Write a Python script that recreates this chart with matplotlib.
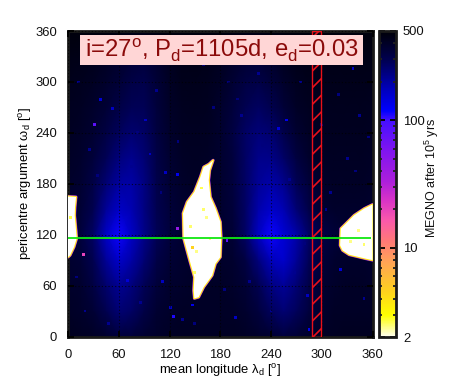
import numpy as np
import matplotlib
matplotlib.use("Agg")
import matplotlib.pyplot as plt
from matplotlib.colors import LinearSegmentedColormap, LogNorm
from matplotlib.ticker import FixedLocator, NullFormatter

plt.rcParams['font.family'] = ['Liberation Sans', 'DejaVu Sans']
plt.rcParams['mathtext.fontset'] = 'custom'
plt.rcParams['mathtext.rm'] = 'Liberation Sans'
plt.rcParams['hatch.linewidth'] = 1.2

# ---- data ----
lambda_grid = list(range(0, 361, 15))
omega_grid = list(range(0, 361, 30))
megno_background = [
    [420,410,400,380,340,350,370,390,400,410,410,410,410,410,400,390,370,340,360,390,400,410,420,420,420],
    [400,390,360,300,250,270,320,370,390,400,400,400,400,400,380,340,280,250,280,340,380,400,400,400,400],
    [390,380,330,260,215,240,290,350,380,390,400,400,400,390,360,300,235,210,250,320,370,390,400,400,390],
    [380,360,300,210,160,195,250,320,360,380,390,390,390,380,330,240,175,160,210,290,350,380,390,390,380],
    [380,340,270,165,115,165,225,290,340,370,380,380,380,360,270,170,115,150,190,270,320,350,380,380,380],
    [380,360,300,210,165,185,235,300,350,380,390,390,380,350,270,190,160,185,250,320,370,390,390,390,380],
    [390,370,320,250,200,195,235,310,360,390,400,400,380,340,270,210,190,220,290,350,390,400,400,400,390],
    [400,385,345,290,240,220,250,320,370,400,410,400,380,340,270,225,225,265,335,385,405,410,410,410,400],
    [410,395,370,325,280,255,270,335,385,410,415,410,380,330,270,245,255,310,370,405,415,420,420,420,410],
    [420,410,390,360,320,290,290,345,395,420,425,420,385,345,295,275,300,355,400,420,425,425,425,425,420],
    [430,425,410,385,355,320,310,355,405,430,430,425,400,365,325,315,345,390,420,430,435,435,435,435,430],
    [450,445,435,415,390,365,350,380,420,445,450,440,420,395,370,365,390,425,445,450,450,450,450,450,450],
    [480,480,480,480,470,460,460,470,480,480,480,480,480,470,460,460,470,480,480,480,480,480,480,480,480],
]
central_lambda = [171.6,167.6,166.4,168.4,174.3,180.2,181.1,180.2,174.3,170.4,160.4,154.5,149.4,
                  148.6,149.4,142.7,136.7,136.0,140.8,149.4,156.5,160.4,166.4]
central_omega = [207.7,195.9,184.1,164.4,151.1,134.9,117.2,93.6,85.8,72.0,58.2,46.4,44.9,
                 54.3,70.0,93.6,115.7,145.2,158.5,170.3,188.0,199.8,203.0]
left_lambda = [0,9.5,8.3,7.9,9.5,10.3,7.1,2.4,0]
left_omega = [165,164.4,152.6,142.8,125.1,115.7,105.4,95.6,93.6]
right_lambda = [360,350.2,338.3,328.5,322.5,321.7,324.6,332.4,344.2,352.2,360]
right_omega = [155.5,150.7,142.8,133.0,127.1,107.4,101.5,96.4,93.6,91.7,90.0]
speck_lambda = [31,38,97,115,129,53,92,18,129,188,70,112,125,147,121,258,249,337,322,283,198,285,
                12,25,45,75,105,205,225,262,275,310,330,345,20,48,86,135,215,240,268,305,350,
                160,200,10,35,60,82,110,130,172,190,230,300,320,340,355,150,185,265,280]
speck_omega = [250,279,215,193,191,269,255,97,127,113,66,65,24,37,34,255,245,316,79,48,22,8,
               300,220,330,200,290,260,310,185,300,170,210,260,30,15,40,20,65,30,75,150,45,
               320,280,70,190,340,240,170,230,270,300,225,250,285,195,235,15,55,340,110]
speck_value = [80,150,170,170,130,170,170,20,45,80,150,170,110,130,170,130,150,170,150,170,170,130,
               220,220,220,220,220,220,220,220,220,220,220,220,220,220,220,220,220,220,220,220,220,
               240,240,240,240,240,240,240,240,240,240,240,240,240,240,240,240,240,240,240]
stable_lambda = [145,152,160,168,150,158,343,350,334,3,147,164]
stable_omega = [130,100,150,115,75,175,125,108,112,140,105,140]
stable_value = [2.5,2.4,2.5,2.4,2.5,2.6,2.4,2.5,2.4,2.6,4.5,2.4]

green_omega = 116.5
hatch_lambda = (289, 299.6)
title = r'i=27$^{\rm o}$, P$_{\rm d}$=1105d, e$_{\rm d}$=0.03'
major_ticks = [0, 60, 120, 180, 240, 300, 360]
cbar_major = [2, 10, 100, 500]
cbar_minor = [3,4,5,6,7,8,9,20,30,40,50,60,70,80,90,200,300,400]

# ---- colour scale ----
stops = [(0,(1,1,.95)),(.07,(1,1,0)),(.15,(1,.82,.12)),(.25,(1,.63,.35)),(.315,(1,.47,.47)),
         (.38,(.98,.35,.67)),(.446,(.85,.2,.78)),(.51,(.67,.12,.86)),(.61,(.5,.08,.94)),
         (.708,(.27,.06,1)),(.74,(0,0,1)),(.807,(0,0,.75)),(.905,(0,0,.32)),(1,(0,0,.03))]
cmap = LinearSegmentedColormap.from_list('megno', stops, N=512)
norm = LogNorm(vmin=2, vmax=500)

W, H = 458, 385
fig = plt.figure(figsize=(W/100, H/100), dpi=100)
ax = fig.add_axes([68/W, 1-336.5/H, (372.5-68)/W, (336.5-31)/H], facecolor='black')

ax.pcolormesh(lambda_grid, omega_grid, np.array(megno_background, float), shading='gouraud',
              cmap=cmap, norm=norm, zorder=1, rasterized=True)
ax.scatter(speck_lambda, speck_omega, c=speck_value, s=4, marker='s', linewidths=0,
           cmap=cmap, norm=norm, zorder=2)

for xs, ys in [(central_lambda, central_omega), (left_lambda, left_omega), (right_lambda, right_omega)]:
    ax.fill(xs, ys, facecolor='none', edgecolor=cmap(norm(60)), lw=2.2, zorder=3, joinstyle='round')
    ax.fill(xs, ys, facecolor='none', edgecolor=cmap(norm(7)), lw=1.7, zorder=3.1, joinstyle='round')
    ax.fill(xs, ys, facecolor='none', edgecolor=cmap(norm(3.4)), lw=1.0, zorder=3.15, joinstyle='round')
    ax.fill(xs, ys, facecolor='white', edgecolor='none', lw=0, zorder=3.2)
ax.scatter(stable_lambda, stable_omega, c=stable_value, s=4, marker='s', linewidths=0,
           cmap=cmap, norm=norm, zorder=3.3)

ax.set_xlim(0, 360)
ax.set_ylim(0, 360)
ax.set_xticks(major_ticks)
ax.set_yticks(major_ticks)
ax.grid(True, color='black', lw=0.8, ls=(0, (1, 2)), alpha=0.75, zorder=4)
ax.set_axisbelow(False)
ax.tick_params(which='major', direction='in', length=4, width=1.3, top=True, right=True,
               labelsize=9.4, color='black', pad=9, labelcolor='#111111')
ax.tick_params(axis='y', pad=8)
for s in ax.spines.values():
    s.set_linewidth(2.0)
    s.set_color('#1a1a1a')

ax.axvspan(hatch_lambda[0], hatch_lambda[1], facecolor='none', edgecolor='#e8101a',
           hatch='//', lw=1.0, zorder=5)
ax.plot([0, 358], [green_omega, green_omega], color='#10e810', lw=1.3, zorder=6, solid_capstyle='butt')

ax.set_xlabel('mean longitude λ$_{\\rm d}$ [$^{\\rm o}$]', fontsize=9.4, labelpad=1)
ax.set_ylabel('pericentre argument ω$_{\\rm d}$ [$^{\\rm o}$]', fontsize=9.4, labelpad=1)

fig.text((80+363)/2/W, 1-50/H, title, fontsize=17.2, color='#8b0a0a', ha='center', va='center', zorder=10)
ax.add_patch(plt.Rectangle((80/W, 1-65/H), (363-80)/W, 30/H, transform=fig.transFigure,
                           facecolor='#ffd6d6', edgecolor='none', zorder=8, clip_on=False))

cax = fig.add_axes([379/W, 1-337/H, (396-379)/W, (337-31)/H])
sm = plt.cm.ScalarMappable(norm=norm, cmap=cmap)
cb = fig.colorbar(sm, cax=cax)
cb.solids.set_rasterized(True)
cax.yaxis.set_major_locator(FixedLocator(cbar_major))
cax.yaxis.set_minor_locator(FixedLocator(cbar_minor))
cax.yaxis.set_minor_formatter(NullFormatter())
cax.set_yticklabels([str(v) for v in cbar_major])
cax.tick_params(which='major', direction='in', length=4.5, width=1.3, left=True, right=True,
                labelsize=9.4, pad=5, color='black', labelcolor='#111111')
cax.tick_params(which='minor', direction='in', length=2.2, width=1.3, left=True, right=True, color='#222222')
cb.outline.set_linewidth(2.0)
cb.outline.set_edgecolor('#1a1a1a')
fig.text(432/W, 1-178/H, 'MEGNO after 10$^{\\rm 5}$ yrs', rotation=90, fontsize=9.0,
         ha='center', va='center', color='#111111')

fig.savefig('out.png', dpi=100)
